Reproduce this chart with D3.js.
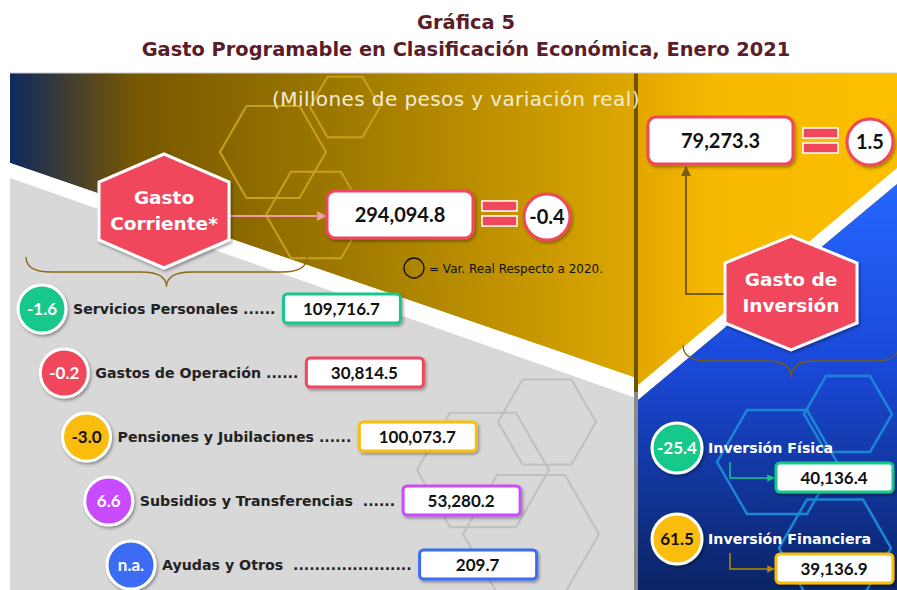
<html>
<head>
<meta charset="utf-8">
<script src="https://d3js.org/d3.v7.min.js"></script>
<style>
  body { margin: 0; background: #fff; }
  text { font-family: "DejaVu Sans", sans-serif; }
  text.num { font-family: Lato, sans-serif; }
</style>
</head>
<body>
<svg id="chart" width="897" height="590"></svg>
<script>
// data
const titleLines = ["Gráfica 5", "Gasto Programable en Clasificación Económica, Enero 2021"];
const subtitle = "(Millones de pesos y variación real)";
const legendText = "=  Var. Real Respecto a 2020.";

const groups = ["Gasto Corriente*", "Gasto de Inversión"];
const groupTotals = [294094.8, 79273.3];
const groupVar = [-0.4, 1.5];

const corrienteItems = ["Servicios Personales", "Gastos de Operación", "Pensiones y Jubilaciones", "Subsidios y Transferencias", "Ayudas y Otros"];
const corrienteLeaders = [" ......", " ......", " ......", "  ......", "  ......................"];
const corrienteValues = [109716.7, 30814.5, 100073.7, 53280.2, 209.7];
const corrienteVar = [-1.6, -0.2, -3.0, 6.6, null];

const inversionItems = ["Inversión Física", "Inversión Financiera"];
const inversionValues = [40136.4, 39136.9];
const inversionVar = [-25.4, 61.5];

// styles
const corrienteColors = ["#12c98b", "#f1475c", "#fbbd0a", "#c94cff", "#3b6cf3"];
const corrienteInk = ["#fff", "#fff", "#111", "#fff", "#fff"];
const inversionColors = ["#12c98b", "#fbbd0a"];
const inversionInk = ["#fff", "#111"];
const red = "#f1475c";

const fmtVal = d3.format(",.1f");
const fmtVar = v => v === null ? "n.a." : v.toFixed(1);

const svg = d3.select("#chart");
const defs = svg.append("defs");

defs.append("filter").attr("id", "sh").attr("x", "-30%").attr("y", "-30%").attr("width", "160%").attr("height", "160%")
  .append("feDropShadow").attr("dx", 1.5).attr("dy", 2).attr("stdDeviation", 1.5).attr("flood-opacity", 0.35);

let gGold = defs.append("linearGradient").attr("id", "gold").attr("x1", 0).attr("x2", 1).attr("y1", 0).attr("y2", 0);
[[0, "#0d2a60"], [0.08, "#3a3a38"], [0.2, "#775800"], [0.5, "#9a7600"], [1, "#dea800"]]
  .forEach(s => gGold.append("stop").attr("offset", s[0]).attr("stop-color", s[1]));
let gYel = defs.append("linearGradient").attr("id", "yel").attr("x1", 0).attr("x2", 1).attr("y1", 0).attr("y2", 0);
[[0, "#e2a600"], [0.3, "#f6b900"], [1, "#fcbf00"]]
  .forEach(s => gYel.append("stop").attr("offset", s[0]).attr("stop-color", s[1]));
let gBlue = defs.append("linearGradient").attr("id", "blue").attr("x1", 0).attr("x2", 0).attr("y1", 0).attr("y2", 1);
[[0, "#2566ff"], [0.45, "#1a48d8"], [1, "#0a2464"]]
  .forEach(s => gBlue.append("stop").attr("offset", s[0]).attr("stop-color", s[1]));

function marker(id, color) {
  defs.append("marker").attr("id", id).attr("viewBox", "0 0 10 10").attr("refX", 9).attr("refY", 5)
    .attr("markerWidth", 5).attr("markerHeight", 5).attr("orient", "auto")
    .append("path").attr("d", "M0,0L10,5L0,10Z").attr("fill", color);
}
marker("arPink", "#f39aa5");
marker("arBrown", "#7a5c10");
marker("arGreen", "#12c98b");
marker("arGold", "#b88a00");

const poly = pts => "M" + pts.map(p => p.join(",")).join("L") + "Z";
const flatHex = (cx, cy, r) => poly(d3.range(6).map(i => [cx + r * Math.cos(i * Math.PI / 3), cy + r * Math.sin(i * Math.PI / 3)]));
const tallHex = (cx, cy, hw, hh, sh) => poly([[cx, cy - hh], [cx + hw, cy - sh], [cx + hw, cy + sh], [cx, cy + hh], [cx - hw, cy + sh], [cx - hw, cy - sh]]);
function brace(x1, x2, y0, h) {
  const xm = (x1 + x2) / 2, ym = y0 + h / 2;
  return `M${x1},${y0}Q${x1},${ym} ${x1 + 25},${ym}L${xm - 25},${ym}Q${xm},${ym} ${xm},${y0 + h}Q${xm},${ym} ${xm + 25},${ym}L${x2 - 25},${ym}Q${x2},${ym} ${x2},${y0}`;
}

// title
svg.selectAll("text.title").data(titleLines).join("text")
  .attr("class", "title")
  .attr("x", 466).attr("y", (d, i) => 29 + i * 27)
  .attr("text-anchor", "middle").attr("font-size", 19.4).attr("font-weight", 700)
  .attr("fill", "#5b1d27").text(d => d);

// background panels
const bg = svg.append("g");
bg.append("path").attr("d", poly([[10, 73], [636, 73], [636, 378], [10, 163]])).attr("fill", "url(#gold)");
bg.append("path").attr("d", poly([[10, 163], [636, 378], [636, 398], [10, 178]])).attr("fill", "#fff");
bg.append("path").attr("d", poly([[10, 178], [636, 398], [636, 590], [10, 590]])).attr("fill", "#d8d8d8");
bg.append("rect").attr("x", 636).attr("y", 73).attr("width", 261).attr("height", 517).attr("fill", "url(#yel)");
bg.append("path").attr("d", poly([[638, 385], [897, 168], [897, 184], [638, 400]])).attr("fill", "#fff");
bg.append("path").attr("d", poly([[638, 400], [897, 184], [897, 590], [638, 590]])).attr("fill", "url(#blue)");
bg.append("line").attr("x1", 636).attr("x2", 636).attr("y1", 73).attr("y2", 392).attr("stroke", "#6f5400").attr("stroke-width", 4);
bg.append("line").attr("x1", 636).attr("x2", 636).attr("y1", 392).attr("y2", 590).attr("stroke", "#8a8a8a").attr("stroke-width", 4);
bg.append("line").attr("x1", 10).attr("x2", 897).attr("y1", 73).attr("y2", 73).attr("stroke", "#c8c8c8").attr("stroke-width", 1);

// decorative hexagons
const deco = svg.append("g").attr("fill", "none");
[[273, 152, 53], [345, 107, 35], [316, 215, 50]].forEach(h =>
  deco.append("path").attr("d", flatHex(...h)).attr("stroke", "#c9a01c").attr("stroke-width", 2));
[[547, 422, 49], [483, 470, 66], [531, 534, 68]].forEach(h =>
  deco.append("path").attr("d", flatHex(...h)).attr("stroke", "#bfbfbf").attr("stroke-width", 2));
[[777, 462, 60], [848, 414, 44], [835, 548, 56]].forEach(h =>
  deco.append("path").attr("d", flatHex(...h)).attr("stroke", "#1c86d6").attr("stroke-width", 2.5));

svg.append("text").attr("x", 456).attr("y", 106).attr("text-anchor", "middle")
  .attr("font-size", 20).attr("letter-spacing", 0.4).attr("fill", "#f4ecd4").text(subtitle);

// braces
svg.append("path").attr("d", brace(26, 307, 257, 30)).attr("fill", "none").attr("stroke", "#8a6a14").attr("stroke-width", 1.3);
svg.append("path").attr("d", brace(683, 899, 345, 32)).attr("fill", "none").attr("stroke", "#7a5c10").attr("stroke-width", 1.3);

// connectors
svg.append("line").attr("x1", 230).attr("y1", 216).attr("x2", 326).attr("y2", 216)
  .attr("stroke", "#f39aa5").attr("stroke-width", 2).attr("marker-end", "url(#arPink)");
svg.append("path").attr("d", "M725,294L686,294L686,167").attr("fill", "none")
  .attr("stroke", "#7a5c10").attr("stroke-width", 2).attr("marker-end", "url(#arBrown)");

// group hexagons
const hexes = [
  {cx: 164, cy: 211, hw: 65, hh: 57, sh: 29, lines: ["Gasto", "Corriente*"]},
  {cx: 791, cy: 293, hw: 66, hh: 57, sh: 30, lines: ["Gasto de", "Inversión"]}
];
hexes.forEach((h, i) => {
  const g = svg.append("g");
  g.append("path").attr("d", tallHex(h.cx, h.cy, h.hw, h.hh, h.sh))
    .attr("fill", red).attr("stroke", "#fff").attr("stroke-width", 3).attr("filter", "url(#sh)");
  g.selectAll("text").data(h.lines).join("text")
    .attr("x", h.cx).attr("y", (d, j) => h.cy - 7 + j * 26)
    .attr("text-anchor", "middle").attr("font-size", 18.5).attr("font-weight", 700)
    .attr("fill", "#fff").text(d => d);
});

// totals: box = circle
const totals = [
  {bx: 327, by: 191, bw: 146, bh: 47, ex: 482, ey: 201, cx: 547, cy: 217},
  {bx: 648, by: 117, bw: 145, bh: 47, ex: 803, ey: 128, cx: 870, cy: 142}
];
totals.forEach((t, i) => {
  const g = svg.append("g");
  g.append("rect").attr("x", t.bx).attr("y", t.by).attr("width", t.bw).attr("height", t.bh).attr("rx", 8)
    .attr("fill", "#fff").attr("stroke", red).attr("stroke-width", 3).attr("filter", "url(#sh)");
  g.append("text").attr("class", "num").attr("x", t.bx + t.bw / 2).attr("y", t.by + t.bh / 2 + 7).attr("text-anchor", "middle")
    .attr("font-size", 20).attr("font-weight", 700).attr("fill", "#111").text(fmtVal(groupTotals[i]));
  [0, 15].forEach(dy => g.append("rect").attr("x", t.ex).attr("y", t.ey + dy).attr("width", 35).attr("height", 10)
    .attr("fill", red).attr("stroke", "#fff").attr("stroke-width", 1.5));
  g.append("circle").attr("cx", t.cx).attr("cy", t.cy).attr("r", 23)
    .attr("fill", "#fff").attr("stroke", red).attr("stroke-width", 3).attr("filter", "url(#sh)");
  g.append("text").attr("class", "num").attr("x", t.cx).attr("y", t.cy + 7).attr("text-anchor", "middle")
    .attr("font-size", 20).attr("font-weight", 700).attr("fill", "#111").text(fmtVar(groupVar[i]));
});

// legend
svg.append("circle").attr("cx", 414).attr("cy", 268).attr("r", 10).attr("fill", "none").attr("stroke", "#111").attr("stroke-width", 1.3);
svg.append("text").attr("x", 429).attr("y", 273).attr("font-size", 12).attr("fill", "#111").text(legendText);

// gasto corriente breakdown
const yRow = d3.scalePoint().domain(corrienteItems).range([309, 565]);
const xRow = d3.scalePoint().domain(corrienteItems).range([42, 131]);

const rows = svg.selectAll("g.row").data(corrienteItems).join("g").attr("class", "row");
rows.each(function(d, i) {
  const g = d3.select(this);
  const cy = yRow(d), cx = xRow(d);
  const label = g.append("text").attr("x", cx + 31).attr("y", cy + 5)
    .attr("font-size", 14.2).attr("font-weight", 700).attr("fill", "#222")
    .attr("xml:space", "preserve").text(d + corrienteLeaders[i]);
  const bx = cx + 31 + label.node().getComputedTextLength() + 8;
  g.append("rect").attr("x", bx).attr("y", cy - 15).attr("width", 117).attr("height", 29).attr("rx", 4)
    .attr("fill", "#fff").attr("stroke", corrienteColors[i]).attr("stroke-width", 3).attr("filter", "url(#sh)");
  g.append("text").attr("class", "num").attr("x", bx + 58).attr("y", cy + 6).attr("text-anchor", "middle")
    .attr("font-size", 17).attr("font-weight", 700).attr("fill", "#111").text(fmtVal(corrienteValues[i]));
  g.append("circle").attr("cx", cx).attr("cy", cy).attr("r", 24)
    .attr("fill", corrienteColors[i]).attr("stroke", "#fff").attr("stroke-width", 3).attr("filter", "url(#sh)");
  g.append("text").attr("class", "num").attr("x", cx).attr("y", cy + 6).attr("text-anchor", "middle")
    .attr("font-size", 17).attr("font-weight", 700).attr("fill", corrienteInk[i]).text(fmtVar(corrienteVar[i]));
});

// gasto de inversion breakdown
const yInv = d3.scalePoint().domain(inversionItems).range([448, 539]);
const invArrows = ["arGreen", "arGold"];
const invLine = ["#12c98b", "#b88a00"];
svg.selectAll("g.inv").data(inversionItems).join("g").attr("class", "inv").each(function(d, i) {
  const g = d3.select(this);
  const cy = yInv(d), cx = 677;
  g.append("path").attr("d", `M${cx + 53},${cy + 14}L${cx + 53},${cy + 30}L${cx + 97},${cy + 30}`)
    .attr("fill", "none").attr("stroke", invLine[i]).attr("stroke-width", 1.5).attr("marker-end", `url(#${invArrows[i]})`);
  g.append("rect").attr("x", cx + 99).attr("y", cy + 15).attr("width", 117).attr("height", 29).attr("rx", 4)
    .attr("fill", "#fff").attr("stroke", inversionColors[i]).attr("stroke-width", 3).attr("filter", "url(#sh)");
  g.append("text").attr("class", "num").attr("x", cx + 157).attr("y", cy + 36).attr("text-anchor", "middle")
    .attr("font-size", 17).attr("font-weight", 700).attr("fill", "#111").text(fmtVal(inversionValues[i]));
  g.append("text").attr("x", cx + 31).attr("y", cy + 5)
    .attr("font-size", 14.2).attr("font-weight", 700).attr("fill", "#fff").text(d);
  g.append("circle").attr("cx", cx).attr("cy", cy).attr("r", 25)
    .attr("fill", inversionColors[i]).attr("stroke", "#fff").attr("stroke-width", 3).attr("filter", "url(#sh)");
  g.append("text").attr("class", "num").attr("x", cx).attr("y", cy + 6).attr("text-anchor", "middle")
    .attr("font-size", 17).attr("font-weight", 700).attr("fill", inversionInk[i]).text(fmtVar(inversionVar[i]));
});
</script>
</body>
</html>
